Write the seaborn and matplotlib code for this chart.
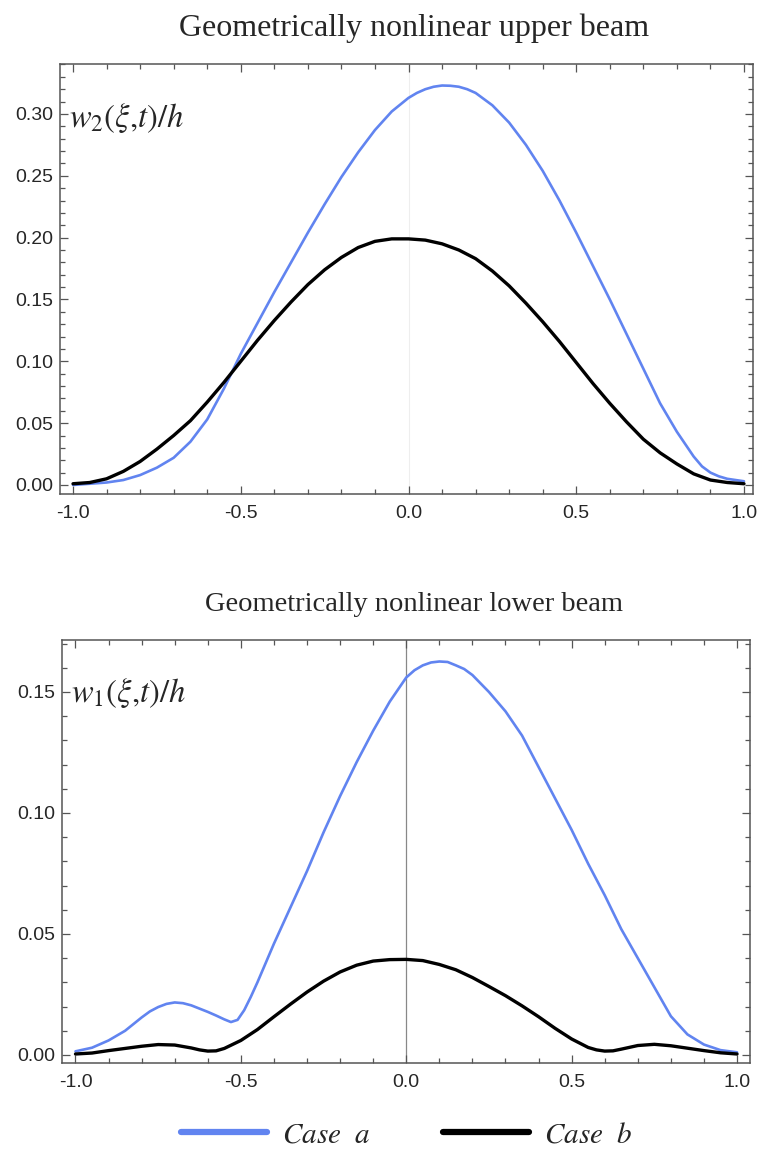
import numpy as np
import pandas as pd
import matplotlib
matplotlib.use("Agg")
import matplotlib.pyplot as plt
from matplotlib.ticker import MultipleLocator, FormatStrFormatter
from matplotlib.lines import Line2D
import seaborn as sns

# Upper beam: w2(xi,t)/h
xi_upper_a = [-1.00, -0.95, -0.90, -0.85, -0.80, -0.75, -0.70, -0.65, -0.60, -0.55,
              -0.50, -0.45, -0.40, -0.35, -0.30, -0.25, -0.20, -0.15, -0.10, -0.05,
              0.00, 0.025, 0.05, 0.075, 0.10, 0.125, 0.15, 0.175, 0.20, 0.25, 0.30, 0.35, 0.40, 0.45,
              0.50, 0.55, 0.60, 0.65, 0.70, 0.75, 0.80, 0.85, 0.875, 0.90, 0.925, 0.95, 0.975, 1.00]
upper_case_a = [0.000, 0.001, 0.002, 0.004, 0.008, 0.014, 0.022, 0.035, 0.053, 0.078,
                0.106, 0.131, 0.156, 0.180, 0.204, 0.227, 0.249, 0.269, 0.287, 0.302,
                0.313, 0.317, 0.320, 0.322, 0.323, 0.3228, 0.322, 0.320, 0.317, 0.307, 0.293, 0.275, 0.254, 0.230,
                0.204, 0.177, 0.150, 0.122, 0.094, 0.066, 0.043, 0.023, 0.015, 0.010, 0.007, 0.005, 0.004, 0.003]
xi_upper_b = [-1.00, -0.95, -0.90, -0.85, -0.80, -0.75, -0.70, -0.65, -0.60, -0.55,
              -0.50, -0.45, -0.40, -0.35, -0.30, -0.25, -0.20, -0.15, -0.10, -0.05,
              0.00, 0.05, 0.10, 0.15, 0.20, 0.25, 0.30, 0.35, 0.40, 0.45,
              0.50, 0.55, 0.60, 0.65, 0.70, 0.75, 0.80, 0.85, 0.90, 0.95, 1.00]
upper_case_b = [0.001, 0.002, 0.005, 0.011, 0.019, 0.029, 0.040, 0.052, 0.067, 0.083,
                0.100, 0.117, 0.133, 0.148, 0.162, 0.174, 0.184, 0.192, 0.197, 0.199,
                0.199, 0.198, 0.195, 0.190, 0.183, 0.173, 0.161, 0.147, 0.132, 0.116,
                0.099, 0.082, 0.066, 0.051, 0.037, 0.026, 0.017, 0.009, 0.004, 0.002, 0.001]

# Lower beam: w1(xi,t)/h
xi_lower_a = [-1.00, -0.95, -0.90, -0.85, -0.80, -0.775, -0.75, -0.725, -0.70, -0.675, -0.65, -0.60, -0.575,
              -0.55, -0.53, -0.51, -0.49, -0.47, -0.45, -0.40, -0.35, -0.30, -0.25, -0.20, -0.15, -0.10, -0.05,
              0.00, 0.025, 0.05, 0.075, 0.10, 0.125, 0.15, 0.175, 0.20, 0.25, 0.30, 0.35, 0.40, 0.45,
              0.50, 0.55, 0.60, 0.65, 0.70, 0.75, 0.80, 0.85, 0.90, 0.95, 1.00]
lower_case_a = [0.0015, 0.003, 0.006, 0.010, 0.0155, 0.018, 0.0198, 0.0211, 0.0217, 0.0214, 0.0205, 0.0178, 0.0163,
                0.0147, 0.0136, 0.0145, 0.0185, 0.024, 0.030, 0.046, 0.061, 0.076, 0.092, 0.107, 0.121, 0.134, 0.146,
                0.156, 0.159, 0.161, 0.1622, 0.1626, 0.1624, 0.161, 0.1595, 0.157, 0.150, 0.142, 0.132, 0.119, 0.106,
                0.093, 0.079, 0.066, 0.052, 0.040, 0.028, 0.016, 0.0085, 0.0043, 0.002, 0.0011]
xi_lower_b = [-1.00, -0.95, -0.90, -0.85, -0.80, -0.75, -0.70, -0.65, -0.625, -0.60, -0.575, -0.55,
              -0.50, -0.45, -0.40, -0.35, -0.30, -0.25, -0.20, -0.15, -0.10, -0.05,
              0.00, 0.05, 0.10, 0.15, 0.20, 0.25, 0.30, 0.35, 0.40, 0.45,
              0.50, 0.55, 0.575, 0.60, 0.625, 0.65, 0.70, 0.75, 0.80, 0.85, 0.90, 0.95, 1.00]
lower_case_b = [0.0004, 0.0008, 0.0018, 0.0027, 0.0036, 0.0043, 0.0041, 0.0029, 0.0021, 0.0016, 0.0017, 0.0027,
                0.0060, 0.0105, 0.0158, 0.021, 0.026, 0.0305, 0.0343, 0.0371, 0.0388, 0.0394,
                0.0395, 0.0390, 0.0374, 0.0352, 0.0320, 0.0283, 0.0245, 0.0203, 0.0158, 0.0110,
                0.0066, 0.0031, 0.0021, 0.0016, 0.0017, 0.0024, 0.0039, 0.0044, 0.0038, 0.0028, 0.0018, 0.0009, 0.0004]

BLUE = "#6184F0"
BLACK = "#000000"

sns.set_style("ticks")
plt.rcParams["mathtext.fontset"] = "stix"
TICK_FONT = ["Liberation Sans Narrow", "Liberation Sans", "DejaVu Sans"]
SERIF = ["Liberation Serif", "DejaVu Serif"]


def make_frame(xs_a, ys_a, xs_b, ys_b):
    return pd.concat([
        pd.DataFrame({"xi": xs_a, "w": ys_a, "case": "a"}),
        pd.DataFrame({"xi": xs_b, "w": ys_b, "case": "b"}),
    ], ignore_index=True)


def style_axes(ax, xlim, ylim, label):
    ax.set_xlim(*xlim)
    ax.set_ylim(*ylim)
    ax.xaxis.set_major_locator(MultipleLocator(0.5))
    ax.xaxis.set_minor_locator(MultipleLocator(0.1))
    ax.yaxis.set_major_locator(MultipleLocator(0.05))
    ax.yaxis.set_minor_locator(MultipleLocator(0.01))
    ax.xaxis.set_major_formatter(FormatStrFormatter("%.1f"))
    ax.yaxis.set_major_formatter(FormatStrFormatter("%.2f"))
    ax.tick_params(which="both", direction="in", top=True, right=True,
                   color="#555555", width=0.9)
    ax.tick_params(which="major", length=6, labelsize=14)
    ax.tick_params(axis="x", which="major", pad=8)
    ax.tick_params(axis="y", which="major", pad=5)
    ax.tick_params(which="minor", length=3.5)
    for lab in ax.get_xticklabels() + ax.get_yticklabels():
        lab.set_family(TICK_FONT)
    for sp in ax.spines.values():
        sp.set_color("#555555")
        sp.set_linewidth(1.1)
    ax.set_xlabel("")
    ax.set_ylabel("")
    ax.text(0.013, 0.875, label, transform=ax.transAxes, fontsize=23.5,
            ha="left", va="center")
    leg = ax.get_legend()
    if leg is not None:
        leg.remove()


fig = plt.figure(figsize=(7.57, 11.51), dpi=100)
ax1 = fig.add_axes([0.0793, 0.5708, 0.9154, 0.3736])
ax2 = fig.add_axes([0.0819, 0.0765, 0.9089, 0.3675])

palette = {"a": BLUE, "b": BLACK}

df_up = make_frame(xi_upper_a, upper_case_a, xi_upper_b, upper_case_b)
ax1.axvline(0, color="#eeeeee", lw=0.8, zorder=0)
sns.lineplot(data=df_up, x="xi", y="w", hue="case", size="case",
             sizes={"a": 1.9, "b": 2.4}, palette=palette, sort=False,
             estimator=None, ax=ax1)
style_axes(ax1, (-1.0387, 1.0268), (-0.0073, 0.3404), r"$w_2(\xi{,}t)/h$")
ax1.set_title("Geometrically nonlinear upper beam", family=SERIF,
              fontsize=23, pad=20, x=0.511)

df_low = make_frame(xi_lower_a, lower_case_a, xi_lower_b, lower_case_b)
ax2.axvline(0, color="#888888", lw=0.9, zorder=0)
sns.lineplot(data=df_low, x="xi", y="w", hue="case", size="case",
             sizes={"a": 1.9, "b": 2.4}, palette=palette, sort=False,
             estimator=None, ax=ax2)
style_axes(ax2, (-1.0408, 1.0393), (-0.0033, 0.1715), r"$w_1(\xi{,}t)/h$")
ax2.set_title("Geometrically nonlinear lower beam", family=SERIF,
              fontsize=20.5, pad=21, x=0.511)

handles = [Line2D([], [], color=BLUE, lw=4.5), Line2D([], [], color=BLACK, lw=4.5)]
fig.legend(handles, [r"$Case\ \ a$", r"$Case\ \ b$"], loc="center",
           bbox_to_anchor=(0.537, 0.0145), ncol=2, frameon=False, fontsize=21,
           handlelength=2.95, columnspacing=2.5, handletextpad=0.5,
           borderpad=0.1)

fig.savefig("out.png", dpi=100)
